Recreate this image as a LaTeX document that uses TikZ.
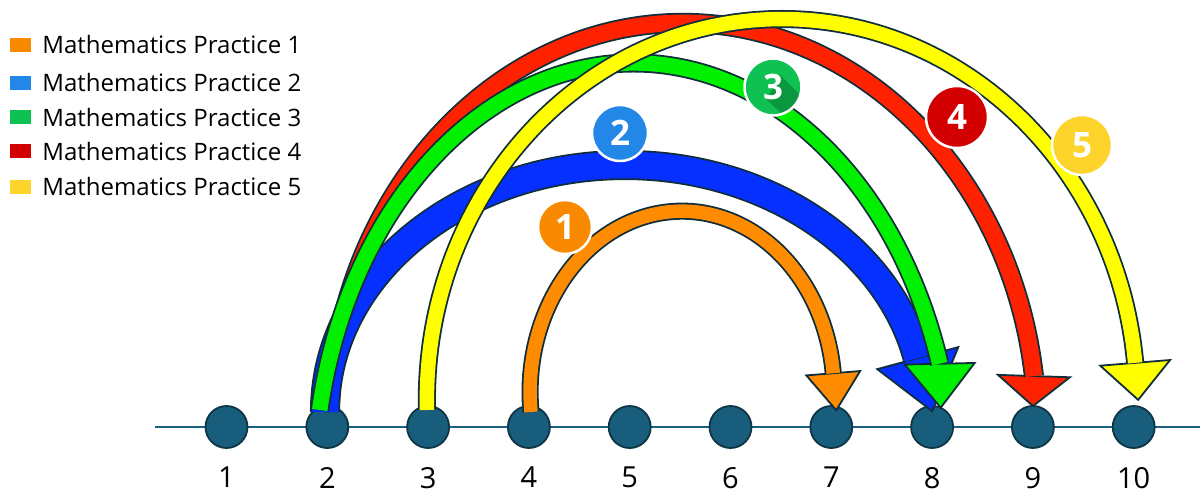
\documentclass[tikz,border=0pt]{standalone}
\usepackage{fontspec}
\setmainfont{Open Sans}
\usetikzlibrary{positioning, calc}

\definecolor{edge}{HTML}{0F2D3A}
\definecolor{axis}{HTML}{1A6080}
\definecolor{dot}{HTML}{185E7C}
\definecolor{dotrim}{HTML}{0E3546}
% arrow fills
\definecolor{mpA}{HTML}{FF8C00}
\definecolor{mpB}{HTML}{0630FF}
\definecolor{mpC}{HTML}{00F000}
\definecolor{mpD}{HTML}{FF2200}
\definecolor{mpE}{HTML}{FFFF00}
% legend and badge colours
\definecolor{keyA}{HTML}{F98A00}
\definecolor{keyB}{HTML}{2287E6}
\definecolor{keyC}{HTML}{0EC152}
\definecolor{keyD}{HTML}{D20000}
\definecolor{keyE}{HTML}{FCD42C}

\begin{document}
\begin{tikzpicture}[
  x=1pt, y=-1pt,
  dotnode/.style={circle, draw=dotrim, fill=dot, line width=1.8pt,
               minimum size=42pt, inner sep=0pt},
  num/.style={font=\fontsize{29}{29}\selectfont, inner sep=0pt},
  key/.style={minimum width=21pt, minimum height=14pt, inner sep=0pt},
  keytext/.style={font=\fontsize{24}{24}\selectfont, inner sep=0pt},
  badge/.style={circle, draw=white, line width=2.5pt, text=white,
               inner sep=0pt, font=\fontsize{35}{35}\selectfont\bfseries},
  band/.style={preaction={draw=edge, line width=#1+3.6pt}, line width=#1},
  arrowhead/.style={fill=#1, draw=edge, line width=1.8pt, line join=miter}
]
\useasboundingbox (0,0) rectangle (1200,495);

% number line
\coordinate (lineL) at (155,427);
\coordinate (lineR) at (1200,427);
\draw[axis, line width=2.2pt] (lineL) -- (lineR);
\foreach \i in {1,...,10} {
  \node[dotnode] (p\i) at ({226.5+100.8*(\i-1)},427) {};
  \node[num, below=18pt of p\i] (n\i) {\i};
}

% legend
\node[key, fill=keyA] (k1) at (20.5,45) {};
\node[key, fill=keyB] (k2) at (20.5,83) {};
\node[key, fill=keyC] (k3) at (20.5,117) {};
\node[key, fill=keyD] (k4) at (20.5,151) {};
\node[key, fill=keyE] (k5) at (20.5,186.5) {};
\node[keytext, right=11pt of k1] (l1) {Mathematics Practice 1};
\node[keytext, right=11pt of k2] (l2) {Mathematics Practice 2};
\node[keytext, right=11pt of k3] (l3) {Mathematics Practice 3};
\node[keytext, right=11pt of k4] (l4) {Mathematics Practice 4};
\node[keytext, right=11pt of k5] (l5) {Mathematics Practice 5};

% practice 4: 2 -> 9
\coordinate (t4) at (329.5,410);
\path (t4) arc[start angle=182.8, end angle=352.4, x radius=354, y radius=407] coordinate (b4);
\coordinate (e4) at ($(b4)+(-1,30)$);
\filldraw[arrowhead=mpD] ($(b4)!36pt!90:(e4)$) -- (e4) -- ($(b4)!36pt!-90:(e4)$) -- cycle;
\draw[band=16.5pt, mpD] (t4) arc[start angle=182.8, end angle=352.4, x radius=354, y radius=407];

% practice 2: 2 -> 8
\coordinate (t2) at (325,412);
\coordinate (e2) at (932.2,411.2);
\path (t2) arc[start angle=180, end angle=347.4, x radius=300, y radius=247] coordinate (b2);
\filldraw[arrowhead=mpB] ($(b2)!42pt!90:(e2)$) -- (e2) -- ($(b2)!42pt!-90:(e2)$) -- cycle;
\draw[band=26.5pt, mpB] (t2) arc[start angle=180, end angle=347.4, x radius=300, y radius=247];

% practice 3: 2 -> 8
\coordinate (t3) at (319.7,410);
\path (t3) arc[start angle=190.8, end angle=342.8, x radius=320, y radius=427] coordinate (b3);
\coordinate (e3) at ($(b3)+(1,44)$);
\filldraw[arrowhead=mpC] ($(b3)!35pt!90:(e3)$) -- (e3) -- ($(b3)!35pt!-90:(e3)$) -- cycle;
\draw[band=15.5pt, mpC] (t3) arc[start angle=190.8, end angle=342.8, x radius=320, y radius=427];

% practice 1: 4 -> 7
\coordinate (t1) at (531,412);
\path (t1) arc[start angle=173.7, end angle=354, x radius=152, y radius=181] coordinate (b1);
\coordinate (e1) at ($(b1)+(3,37)$);
\filldraw[arrowhead=mpA] ($(b1)!27pt!90:(e1)$) -- (e1) -- ($(b1)!27pt!-90:(e1)$) -- cycle;
\draw[band=13.5pt, mpA] (t1) arc[start angle=173.7, end angle=354, x radius=152, y radius=181];

% practice 5: 3 -> 10
\coordinate (t5) at (427,410);
\path (t5) arc[start angle=178.5, end angle=354.4, x radius=355, y radius=381] coordinate (b5);
\coordinate (e5) at ($(b5)+(3,37)$);
\filldraw[arrowhead=mpE] ($(b5)!35pt!90:(e5)$) -- (e5) -- ($(b5)!35pt!-90:(e5)$) -- cycle;
\draw[band=14.5pt, mpE] (t5) arc[start angle=178.5, end angle=354.4, x radius=355, y radius=381];

% number badges
\node[badge, fill=keyA, minimum size=54pt] (m1) at (565,227) {1};
\node[badge, fill=keyB, minimum size=56pt] (m2) at (620,133) {2};
\node[badge, fill=keyC, minimum size=57pt, path picture={
    \fill[keyC!78!black] ($(path picture bounding box.center)+(6,-13)$)
      -- ++(34,34) -- ++(-18,18) -- ($(path picture bounding box.center)+(-6,13)$) -- cycle;
  }] (m3) at (773,87) {3};
\node[badge, fill=keyD, minimum size=62pt] (m4) at (957,117) {4};
\node[badge, fill=keyE, minimum size=60pt] (m5) at (1082,145) {5};

\end{tikzpicture}
\end{document}
